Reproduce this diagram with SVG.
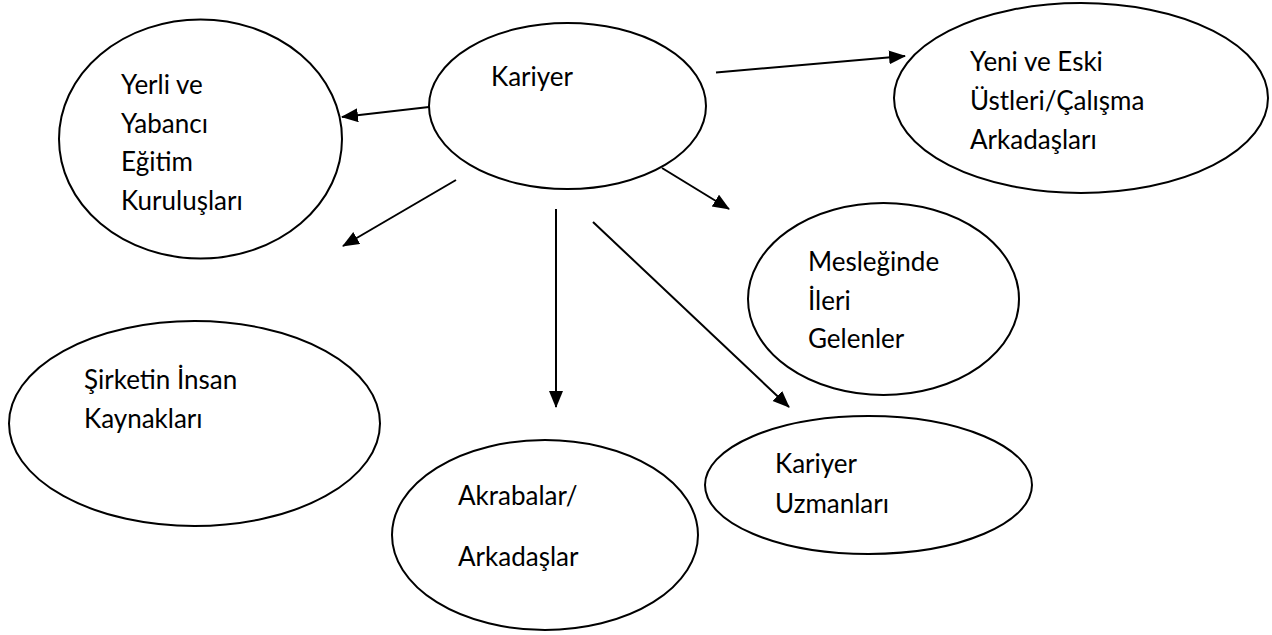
<svg xmlns="http://www.w3.org/2000/svg" width="1272" height="635" viewBox="0 0 1272 635">
<style>
.node ellipse{fill:#fff;stroke:#000;stroke-width:2}
.node text{font-family:Lato,"Liberation Sans",sans-serif;font-size:26px;fill:#000}
.conn line{stroke:#000;stroke-width:2;marker-end:url(#ah)}
</style>
<defs>
<marker id="ah" markerUnits="userSpaceOnUse" markerWidth="18" markerHeight="16" refX="16" refY="7" orient="auto">
<path d="M0,0 L17,7 L0,14 z" fill="#000"/>
</marker>
</defs>
<rect width="1272" height="635" fill="#fff"/>
<g id="n-yerli" class="node">
<ellipse cx="200.5" cy="139" rx="141.5" ry="119.5"/>
<text x="121" y="94">Yerli ve</text>
<text x="121" y="132.5">Yabancı</text>
<text x="121" y="171">Eğitim</text>
<text x="121" y="209.5">Kuruluşları</text>
</g>
<g id="n-kariyer" class="node">
<ellipse cx="567.5" cy="106" rx="138.5" ry="83"/>
<text x="491" y="86">Kariyer</text>
</g>
<g id="n-yeni" class="node">
<ellipse cx="1081" cy="98" rx="187" ry="95"/>
<text x="970" y="71">Yeni ve Eski</text>
<text x="970" y="110">Üstleri/Çalışma</text>
<text x="970" y="149">Arkadaşları</text>
</g>
<g id="n-meslek" class="node">
<ellipse cx="883.5" cy="299" rx="135.5" ry="96"/>
<text x="808" y="271">Mesleğinde</text>
<text x="808" y="309.5">İleri</text>
<text x="808" y="348">Gelenler</text>
</g>
<g id="n-sirket" class="node">
<ellipse cx="194.5" cy="423.5" rx="185.5" ry="102.5"/>
<text x="84" y="389">Şirketin İnsan</text>
<text x="84" y="428">Kaynakları</text>
</g>
<g id="n-akraba" class="node">
<ellipse cx="545" cy="535" rx="153" ry="95"/>
<text x="458" y="505">Akrabalar/</text>
<text x="458" y="566">Arkadaşlar</text>
</g>
<g id="n-uzman" class="node">
<ellipse cx="868.5" cy="485" rx="163.5" ry="69"/>
<text x="775" y="473">Kariyer</text>
<text x="775" y="513">Uzmanları</text>
</g>
<g id="connectors" class="conn">
<line x1="429" y1="107" x2="342" y2="117"/>
<line x1="456" y1="180" x2="343" y2="246"/>
<line x1="716" y1="72.5" x2="905" y2="56"/>
<line x1="662" y1="168" x2="729" y2="209"/>
<line x1="556" y1="209" x2="556" y2="407"/>
<line x1="593" y1="222" x2="789" y2="407"/>
</g>
</svg>
